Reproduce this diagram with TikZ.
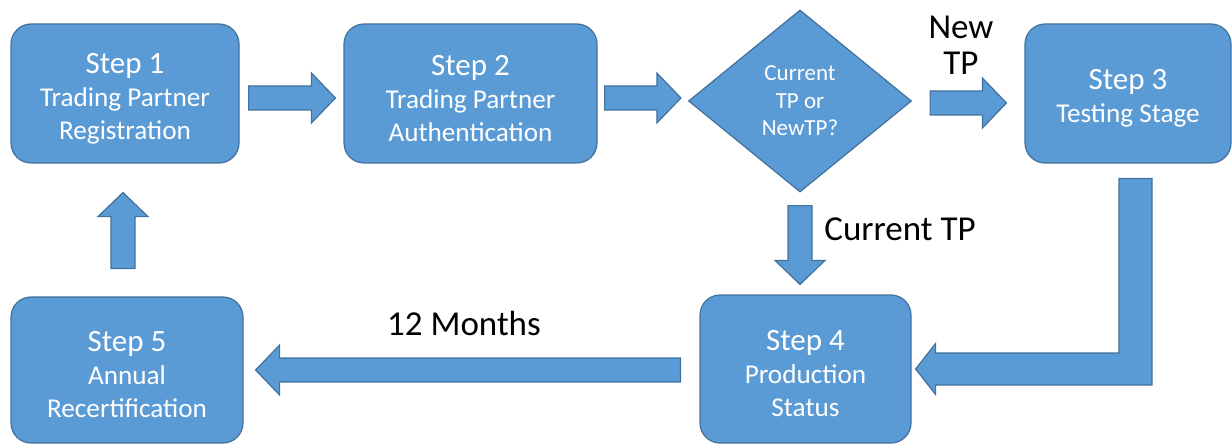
\documentclass[tikz,border=0pt]{standalone}
\usepackage{fontspec}
\setmainfont{Carlito}
\usepackage{tikz}
\usetikzlibrary{calc, shapes.geometric}
\definecolor{boxblue}{HTML}{5B9BD5}
\definecolor{boxedge}{HTML}{41719C}

\begin{document}
\begin{tikzpicture}[x=0.5pt, y=-0.5pt,
  stepbox/.style={draw=boxedge, fill=boxblue, line width=0.6pt, rounded corners=10pt,
    text=white, align=center, inner sep=0pt, font=\fontsize{13.6}{16.5}\selectfont},
  choice/.style={diamond, draw=boxedge, fill=boxblue, line width=0.6pt, text=white,
    align=center, inner sep=0pt, aspect=1.2, font=\fontsize{11.5}{13.75}\selectfont},
  lbl/.style={text=black, align=center, inner sep=0pt, font=\fontsize{17.5}{18}\selectfont},
  fatbody/.style={draw=boxedge, fill=boxblue, line width=0.6pt},
  fat/.style={fatbody, to path={
    ($(\tikztostart)!6pt!90:(\tikztotarget)$)
    -- ($($(\tikztotarget)!12pt!(\tikztostart)$)!6pt!90:(\tikztotarget)$)
    -- ($($(\tikztotarget)!12pt!(\tikztostart)$)!12.5pt!90:(\tikztotarget)$)
    -- (\tikztotarget)
    -- ($($(\tikztotarget)!12pt!(\tikztostart)$)!12.5pt!-90:(\tikztotarget)$)
    -- ($($(\tikztotarget)!12pt!(\tikztostart)$)!6pt!-90:(\tikztotarget)$)
    -- ($(\tikztostart)!6pt!-90:(\tikztotarget)$) -- cycle}}]
\useasboundingbox (0,0) rectangle (1232,444);

% steps
\node[stepbox, minimum width=114pt, minimum height=69.5pt] (s1) at (125,93.5)
  {{\fontsize{15.5}{17}\selectfont\rule{0pt}{15pt}Step 1}\\Trading Partner\\Registration};
\node[stepbox, minimum width=126.5pt, minimum height=69.5pt] (s2) at (470.5,93.5)
  {{\fontsize{15.5}{17}\selectfont\rule{0pt}{15pt}Step 2}\\Trading Partner\\Authentication};
\node[choice, minimum width=111.5pt, minimum height=91pt] (tp) at (800,101)
  {Current\\TP or\\NewTP?};
\node[stepbox, minimum width=103pt, minimum height=69.5pt] (s3) at (1128,93.5)
  {{\fontsize{15.5}{17.5}\selectfont\rule{0pt}{15pt}Step 3}\\Testing Stage};
\node[stepbox, minimum width=105.5pt, minimum height=74pt] (s4) at (805.5,369)
  {{\fontsize{15.5}{17}\selectfont\rule{0pt}{15pt}Step 4}\\Production\\Status};
\node[stepbox, minimum width=116pt, minimum height=73pt] (s5) at (127,370)
  {{\fontsize{15.5}{17}\selectfont\rule{0pt}{15pt}Step 5}\\Annual\\Recertification};

% labels
\node[lbl] (lnew) at (961,45) {New\\TP};
\node[lbl, anchor=west] (lcur) at (824,229) {Current TP};
\node[lbl] (lmon) at (464,323) {12 Months};

% block arrows
\draw[fat] ($(s1.east)+(9,4.5)$) to ($(s2.west)+(-8,4.5)$);
\draw[fat] ($(s2.east)+(7,4.5)$) to ($(tp.west)+(-7,-3)$);
\draw[fat] ($(tp.east)+(18,2)$) to ($(s3.west)+(-18,9.5)$);
\draw[fat] ($(tp.south)+(0,13)$) to ($(s4.north)+(-5.5,-10)$);
\draw[fat] ($(s4.west)+(-19,1)$) to ($(s5.east)+(12,0)$);
\draw[fat] ($(s5.north)+(-4,-28)$) to ($(s1.south)+(-2,29)$);

\coordinate (b0) at ($(s3.south)+(7.5,15)$);
\coordinate (b1) at ($(s4.east)+(4,0)$);
\draw[fatbody] ($(b0)+(-16.5,0)$) -- ($(b0)+(16.5,0)$) |- ($(b1)+(20,16)$)
  -- ($(b1)+(20,25.5)$) -- (b1) -- ($(b1)+(20,-25.5)$) -- ($(b1)+(20,-16)$)
  -| ($(b0)+(-16.5,0)$) -- cycle;
\end{tikzpicture}
\end{document}
